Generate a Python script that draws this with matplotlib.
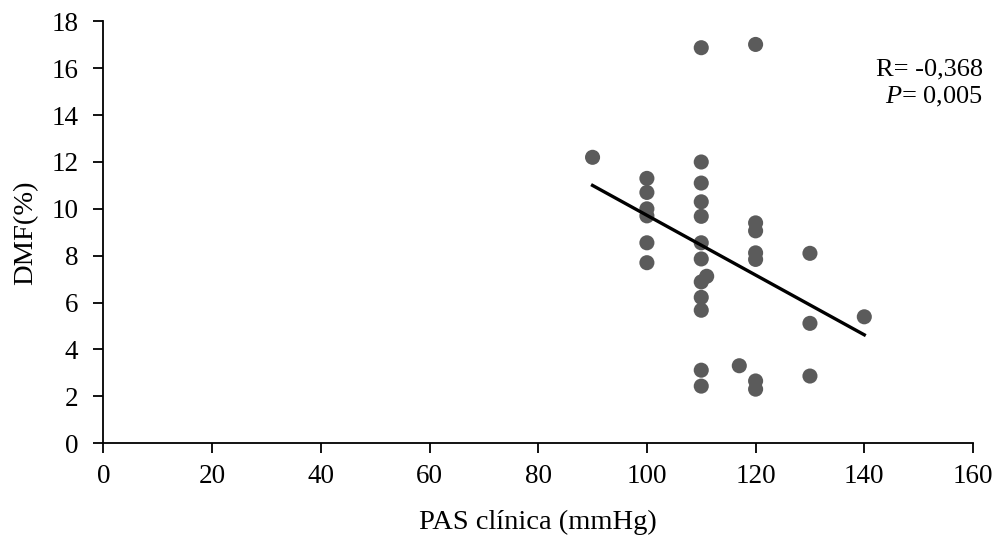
import numpy as np
import matplotlib
matplotlib.use('Agg')
import matplotlib.pyplot as plt

plt.rcParams['font.family'] = ['Liberation Serif', 'DejaVu Serif']
plt.rcParams['mathtext.fontset'] = 'custom'
plt.rcParams['mathtext.rm'] = 'Liberation Serif'
plt.rcParams['mathtext.it'] = 'Liberation Serif:italic'

# PAS clinica (mmHg) vs DMF (%)
pas = [90,
       100, 100, 100, 100, 100, 100,
       110, 110, 110, 110, 110, 110, 110, 110, 110, 110, 110, 110,
       111, 117,
       120, 120, 120, 120, 120, 120, 120,
       130, 130, 130,
       140]
dmf = [12.2,
       11.3, 10.7, 10.0, 9.7, 8.55, 7.7,
       16.88, 12.0, 11.1, 10.3, 9.68, 8.55, 7.86, 6.88, 6.22, 5.67, 3.11, 2.43,
       7.12, 3.30,
       17.02, 9.40, 9.06, 8.12, 7.84, 2.65, 2.30,
       8.10, 5.11, 2.86,
       5.39]

# trend line ends
trend_x = [90, 140]
trend_y = [11.0, 4.62]

fig = plt.figure(figsize=(10, 5.37), dpi=100)
ax = fig.add_axes([0.1034, 0.175, 0.8696, 0.785])

ax.scatter(pas, dmf, s=118, color='#5b5b5b', edgecolors='none', zorder=3)
ax.plot(trend_x, trend_y, color='black', lw=2.4, zorder=4)

ax.set_xlim(0, 160)
ax.set_ylim(0, 18)
ax.set_xticks(np.arange(0, 161, 20))
ax.set_yticks(np.arange(0, 19, 2))
for s in ['top', 'right']:
    ax.spines[s].set_visible(False)
for s in ['left', 'bottom']:
    ax.spines[s].set_linewidth(1.3)
ax.tick_params(direction='out', length=7, width=1.3, labelsize=19.5)
ax.tick_params(axis='x', pad=8)
ax.tick_params(axis='y', pad=11)

ax.set_xlabel('PAS clínica (mmHg)', fontsize=20.5, va='center')
ax.xaxis.set_label_coords(0.5, -0.188)
ax.set_ylabel('DMF(%)', fontsize=20.5, va='center')
ax.yaxis.set_label_coords(-0.089, 0.5)

fig.text(0.983, 0.870, 'R= -0,368', ha='right', va='center', fontsize=19)
fig.text(0.983, 0.819, '$\\it{P}$= 0,005', ha='right', va='center', fontsize=19)

fig.savefig('out.png', dpi=100)
